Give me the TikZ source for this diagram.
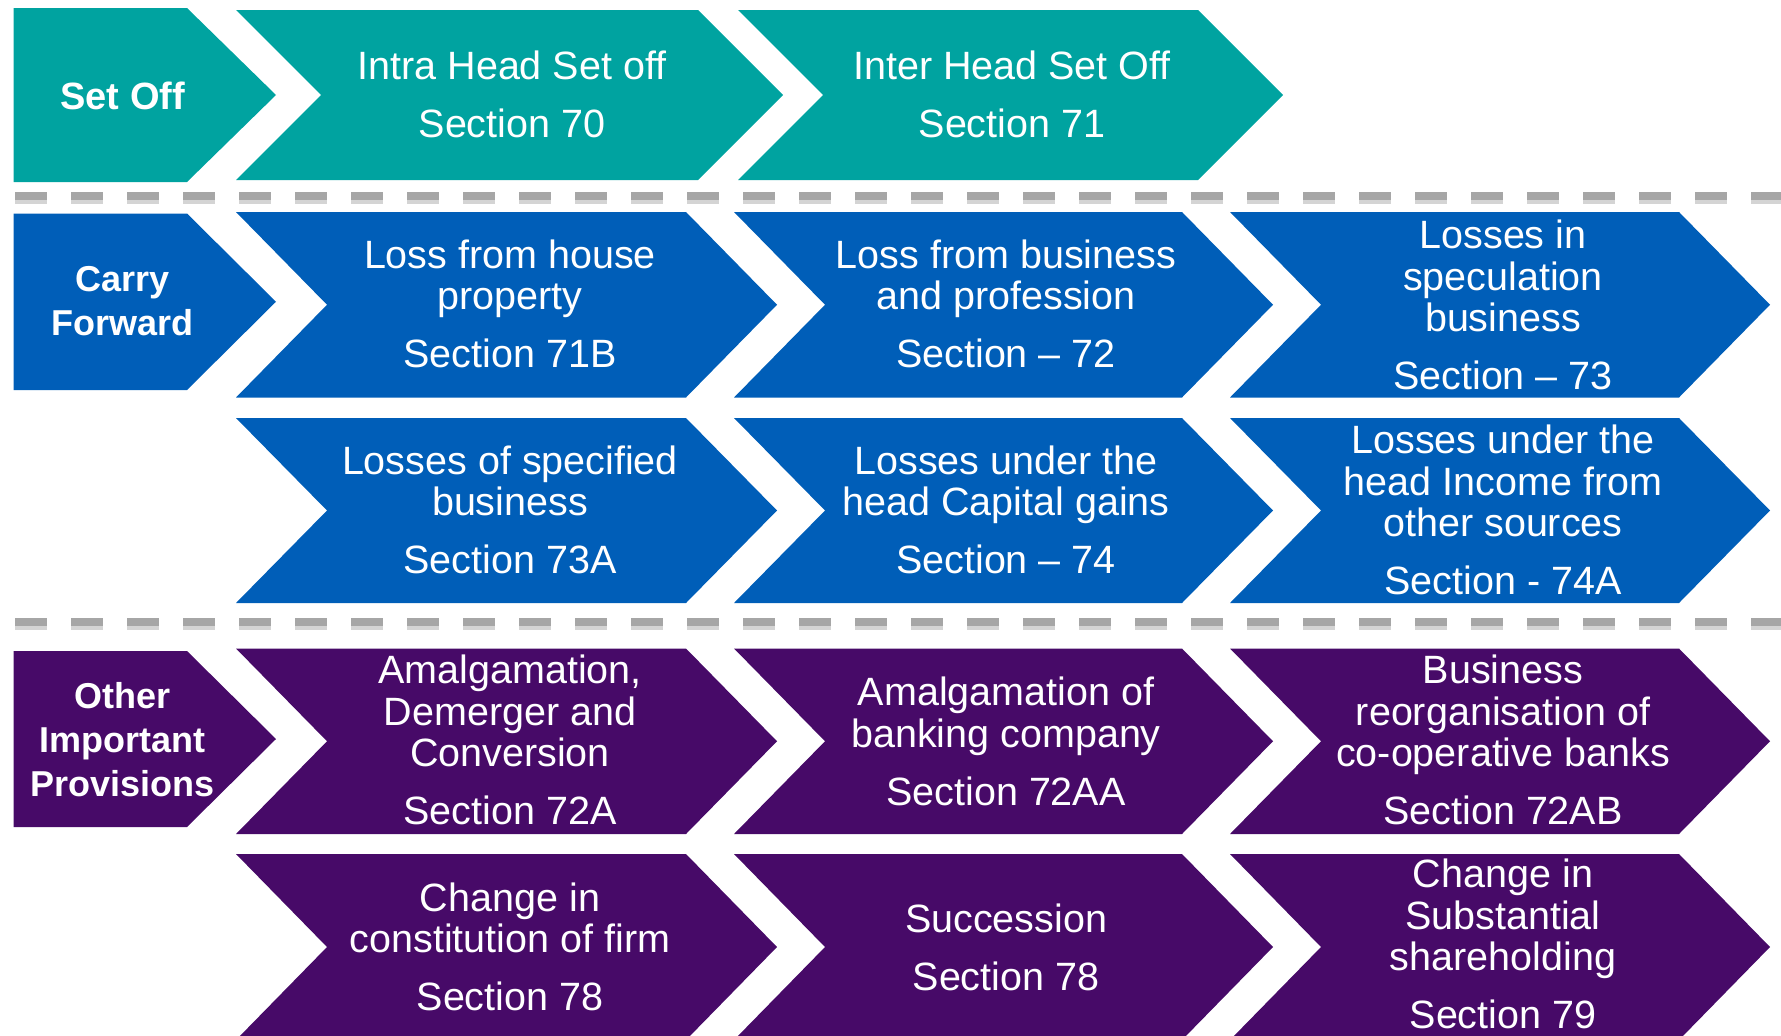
\documentclass[tikz,border=0pt]{standalone}
\usepackage{fontspec}
\setmainfont{Liberation Sans}
\definecolor{tealc}{HTML}{00A3A0}
\definecolor{bluec}{HTML}{005EB8}
\definecolor{purplec}{HTML}{470A68}
\definecolor{sepgray}{HTML}{A6A6A6}
\definecolor{sepshadow}{HTML}{D4D4D4}
% #1 colour, #2 left x, #3 corner x, #4 top y, #5 bottom y, #6 tip depth, #7 notch depth
\newcommand\arrowbox[7]{\fill[#1] (#2,#4) -- (#3,#4) -- ({#3+#6},{(#4+#5)/2}) -- (#3,#5) -- (#2,#5) -- ({#2+#7},{(#4+#5)/2}) -- cycle;}
\begin{document}
\begin{tikzpicture}[x=1pt,y=-1pt,
  body/.style={text=white, align=center, inner sep=0pt, anchor=south,
    font=\fontsize{39.5}{41.5}\selectfont, yshift=-3.5pt},
  lab/.style={text=white, align=center, inner sep=0pt, anchor=south,
    font=\bfseries\fontsize{36}{44}\selectfont, yshift=-2pt},
  sepline/.style={line width=8pt, draw=sepgray, dash pattern=on 32pt off 24pt},
  sepshade/.style={line width=8pt, draw=sepshadow, dash pattern=on 32pt off 24pt}]
\useasboundingbox (0,0) rectangle (1781,1036);
\begin{scope}
\clip (0,0) rectangle (1781,1036);
% row 1
\arrowbox{tealc}{13.5}{187}{8}{182}{89}{0}
\arrowbox{tealc}{236}{698}{10}{180}{85}{85}
\arrowbox{tealc}{738}{1198}{10}{180}{85}{85}
% separators
\draw[sepshade] (15,199.5) -- (1781,199.5);
\draw[sepline] (15,196) -- (1781,196);
\draw[sepshade] (15,625.5) -- (1781,625.5);
\draw[sepline] (15,622) -- (1781,622);
% row 2
\arrowbox{bluec}{13.5}{187}{213.5}{390}{89}{0}
\arrowbox{bluec}{236}{686}{212}{397.5}{91}{91}
\arrowbox{bluec}{734}{1182}{212}{397.5}{91}{91}
\arrowbox{bluec}{1230}{1679}{212}{397.5}{91}{91}
% row 3
\arrowbox{bluec}{236}{686}{418}{603}{91}{91}
\arrowbox{bluec}{734}{1182}{418}{603}{91}{91}
\arrowbox{bluec}{1230}{1679}{418}{603}{91}{91}
% row 4
\arrowbox{purplec}{13.5}{187}{651}{827}{89}{0}
\arrowbox{purplec}{236}{686}{648.5}{834}{91}{91}
\arrowbox{purplec}{734}{1182}{648.5}{834}{91}{91}
\arrowbox{purplec}{1230}{1679}{648.5}{834}{91}{91}
% row 5
\arrowbox{purplec}{236}{686}{854}{1040}{91}{91}
\arrowbox{purplec}{734}{1182}{854}{1040}{91}{91}
\arrowbox{purplec}{1230}{1679}{854}{1040}{91}{91}
\end{scope}
% labels
\node[lab, font=\bfseries\fontsize{38}{44}\selectfont] (setoff) at (122.7,108) {Set Off};
\node[lab] (carry) at (122.7,334) {Carry\\Forward};
\node[lab] (other) at (122.7,795) {Other\\Important\\Provisions};
% row 1 texts
\node[body] (s70) at (512,134.5) {Intra Head Set off\\[16.5pt]Section 70};
\node[body] (s71) at (1012,134.5) {Inter Head Set Off\\[16.5pt]Section 71};
% row 2 texts
\node[body] (s71b) at (510,365) {Loss from house\\property\\[16.5pt]Section 71B};
\node[body] (s72) at (1006,365) {Loss from business\\and profession\\[16.5pt]Section – 72};
\node[body] (s73) at (1503,387) {Losses in\\speculation\\business\\[16.5pt]Section – 73};
% row 3 texts
\node[body] (s73a) at (510,571) {Losses of specified\\business\\[16.5pt]Section 73A};
\node[body] (s74) at (1006,571) {Losses under the\\head Capital gains\\[16.5pt]Section – 74};
\node[body] (s74a) at (1503,592) {Losses under the\\head Income from\\other sources\\[16.5pt]Section - 74A};
% row 4 texts
\node[body] (s72a) at (510,822) {Amalgamation,\\Demerger and\\Conversion\\[16.5pt]Section 72A};
\node[body] (s72aa) at (1006,802.5) {Amalgamation of\\banking company\\[16.5pt]Section 72AA};
\node[body] (s72ab) at (1503,822) {Business\\reorganisation of\\co-operative banks\\[16.5pt]Section 72AB};
% row 5 texts
\node[body] (s78a) at (510,1008) {Change in\\constitution of firm\\[16.5pt]Section 78};
\node[body] (s78b) at (1006,987.6) {Succession\\[16.5pt]Section 78};
\node[body] (s79) at (1503,1026) {Change in\\Substantial\\shareholding\\[16.5pt]Section 79};
\end{tikzpicture}
\end{document}
